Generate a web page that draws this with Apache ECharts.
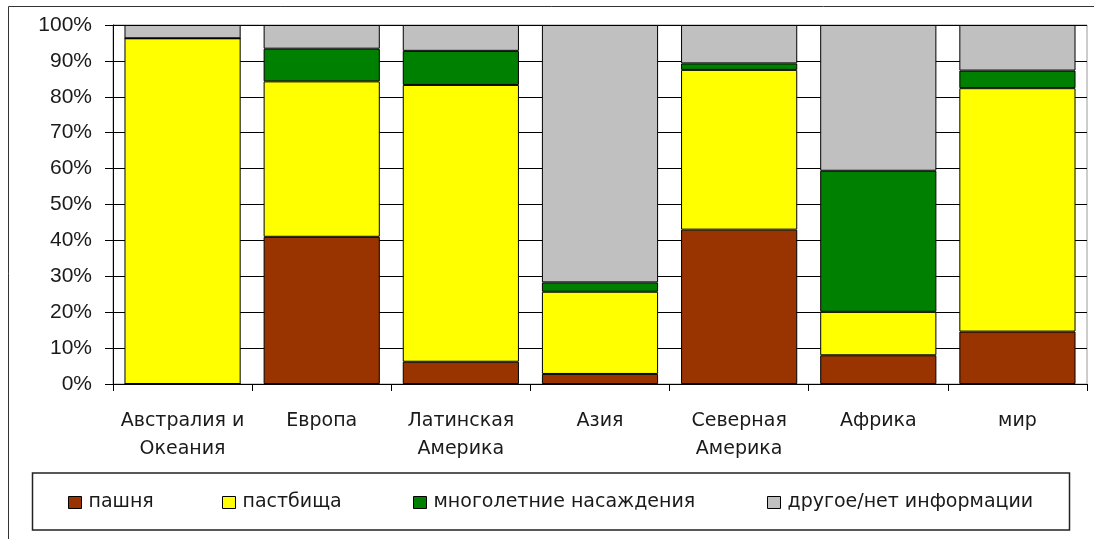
<!DOCTYPE html>
<html>
<head>
<meta charset="utf-8">
<title>Структура земель</title>
<script src="https://cdn.jsdelivr.net/npm/echarts@6/dist/echarts.min.js"></script>
<style>
  html, body { margin: 0; padding: 0; background: #fff; }
  #chart { width: 1094px; height: 539px; }
</style>
</head>
<body>
<div id="chart"></div>
<script>
// Regions along the category axis
const regions = ['Австралия и\nОкеания', 'Европа', 'Латинская\nАмерика', 'Азия', 'Северная\nАмерика', 'Африка', 'мир'];

// Share of land by use, percent of total
const arable     = [0,    41.0, 6.2,  2.8,  43.0, 8.0,  14.6];   // пашня
const pasture    = [96.3, 43.3, 77.1, 22.9, 44.5, 12.1, 67.8];   // пастбища
const perennial  = [0,    9.1,  9.5,  2.6,  1.8,  39.3, 4.9];    // многолетние насаждения
const other      = [3.7,  6.6,  7.2,  71.7, 10.7, 40.6, 12.7];   // другое/нет информации

// Value-axis ticks
const yTicks = [0, 10, 20, 30, 40, 50, 60, 70, 80, 90, 100];

const seriesNames = ['пашня', 'пастбища', 'многолетние насаждения', 'другое/нет информации'];
const seriesColors = ['#993300', '#ffff00', '#008000', '#c0c0c0'];
const seriesData = [arable, pasture, perennial, other];

const numFont = 'Arial, "Liberation Sans", sans-serif';
const textFont = '"DejaVu Sans", Verdana, sans-serif';
const textColor = '#1a1a1a';

const chart = echarts.init(document.getElementById('chart'), null, { renderer: 'canvas' });

const legendLefts = [68, 222, 413, 767];

chart.setOption({
  animation: false,
  backgroundColor: '#fff',
  grid: {
    left: 113, right: 7, top: 25, bottom: 155,
    show: true, borderColor: '#9a9a9a', borderWidth: 1, backgroundColor: 'transparent'
  },
  graphic: [
    { type: 'rect', shape: { x: 8.5, y: 6.5, width: 1100, height: 560 }, style: { fill: 'none', stroke: '#333', lineWidth: 1 }, silent: true },
    { type: 'rect', shape: { x: 32.5, y: 473, width: 1037, height: 57 }, style: { fill: 'none', stroke: '#222', lineWidth: 1.5 }, silent: true }
  ],
  legend: seriesNames.map((n, i) => ({
    data: [n],
    left: legendLefts[i],
    top: 493,
    orient: 'horizontal',
    icon: 'rect',
    itemWidth: 13,
    itemHeight: 12,
    itemGap: 0,
    padding: 0,
    selectedMode: false,
    textStyle: { fontFamily: textFont, fontSize: 19, color: textColor, padding: [0, 0, 0, 2] },
    itemStyle: { borderColor: '#000', borderWidth: 1 }
  })),
  xAxis: {
    type: 'category',
    data: regions,
    axisLine: { lineStyle: { color: '#000', width: 1 } },
    axisTick: { show: true, length: 7, alignWithLabel: false, lineStyle: { color: '#000' } },
    axisLabel: {
      interval: 0,
      margin: 23,
      fontFamily: textFont,
      fontSize: 19,
      lineHeight: 28,
      color: textColor
    },
    splitLine: { show: false }
  },
  yAxis: {
    type: 'value',
    min: yTicks[0],
    max: yTicks[yTicks.length - 1],
    interval: yTicks[1] - yTicks[0],
    axisLine: { show: true, lineStyle: { color: '#000', width: 1 } },
    axisTick: { show: true, inside: false, length: 8, lineStyle: { color: '#000' } },
    axisLabel: {
      margin: 21,
      fontFamily: numFont,
      fontSize: 21,
      color: textColor,
      formatter: '{value}%'
    },
    splitLine: { show: true, lineStyle: { color: '#000', width: 1 } }
  },
  series: seriesNames.map((n, i) => ({
    name: n,
    type: 'bar',
    stack: 'land',
    data: seriesData[i],
    barCategoryGap: '16.5%',
    itemStyle: { color: seriesColors[i], borderColor: '#000', borderWidth: 1 },
    emphasis: { disabled: true }
  }))
});
</script>
</body>
</html>
